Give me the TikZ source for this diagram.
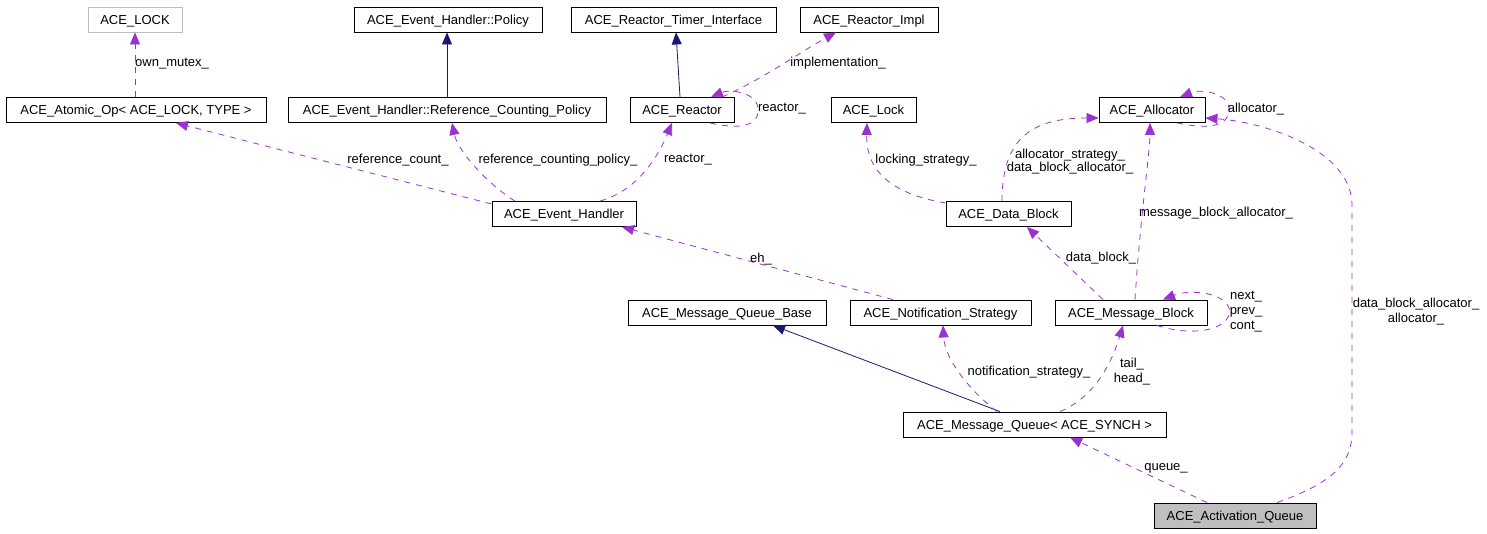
\documentclass[tikz,border=0pt]{standalone}
\usepackage{fontspec}
\setmainfont{Liberation Sans}
\usetikzlibrary{arrows.meta}
\definecolor{purp}{HTML}{9A32CD}
\definecolor{navy}{HTML}{191970}
\definecolor{gfill}{HTML}{BFBFBF}
\tikzset{
  cls/.style={draw=black, line width=0.9pt, minimum height=25pt, inner sep=0pt, text height=10pt, text depth=0.7pt, font=\fontsize{13}{15}\selectfont},
  lbl/.style={inner sep=0pt, font=\fontsize{13}{15}\selectfont, align=center},
  use/.style={draw=purp, line width=0.8pt, dash pattern=on 6pt off 6pt, -{Triangle[length=12pt,width=10pt,fill=purp]}},
  inh/.style={draw=navy, line width=0.8pt, -{Triangle[length=12pt,width=10pt,fill=navy]}}
}
\begin{document}
\begin{tikzpicture}[x=1pt,y=-1pt]
\useasboundingbox (0,0) rectangle (1487,533);
% classes
\node[cls, draw=gfill, minimum width=94pt] (lock) at (135,19.5) {ACE\_LOCK};
\node[cls, minimum width=188pt] (policy) at (448,19.5) {ACE\_Event\_Handler::Policy};
\node[cls, minimum width=205pt] (rti) at (673.5,19.5) {ACE\_Reactor\_Timer\_Interface};
\node[cls, minimum width=138pt] (rimpl) at (869,19.5) {ACE\_Reactor\_Impl};
\node[cls, minimum width=260pt] (atomic) at (136,110) {ACE\_Atomic\_Op< ACE\_LOCK, TYPE >};
\node[cls, minimum width=318pt] (rcp) at (447,110) {ACE\_Event\_Handler::Reference\_Counting\_Policy};
\node[cls, minimum width=104pt] (reactor) at (682,110) {ACE\_Reactor};
\node[cls, minimum width=85pt] (alock) at (873.5,110) {ACE\_Lock};
\node[cls, minimum width=106pt] (alloc) at (1152,110) {ACE\_Allocator};
\node[cls, minimum width=144pt] (eh) at (564,214) {ACE\_Event\_Handler};
\node[cls, minimum width=125pt] (db) at (1008.5,214) {ACE\_Data\_Block};
\node[cls, minimum width=198pt] (mqb) at (727,312.5) {ACE\_Message\_Queue\_Base};
\node[cls, minimum width=181pt] (ns) at (940.5,312.5) {ACE\_Notification\_Strategy};
\node[cls, minimum width=152pt] (mb) at (1131,312.5) {ACE\_Message\_Block};
\node[cls, minimum width=263pt] (mq) at (1034.5,424.5) {ACE\_Message\_Queue< ACE\_SYNCH >};
\node[cls, fill=gfill, minimum width=162pt] (aq) at (1235,515.5) {ACE\_Activation\_Queue};
% inheritance
\draw[inh] (rcp.north -| 447,0) -- (policy.south -| 447,0);
\draw[inh] (reactor.north -| 680,0) -- (rti.south -| 676,0);
\draw[inh] (mq.north -| 1000,0) -- (mqb.south -| 773,0);
% usage
\draw[use] (atomic.north -| 135,0) -- (lock.south -| 135,0);
\draw[use] (reactor.north -| 722,0) .. controls (765,78) and (800,52) .. (rimpl.south -| 836,0);
\draw[use] (reactor.south -| 710,0) .. controls (740,130) and (760,126) .. (758,108) .. controls (756,92) and (730,89) .. (reactor.north -| 711,0);
\draw[use] (eh.west |- 0,204) -- (atomic.south -| 176,0);
\draw[use] (eh.north -| 515,0) .. controls (490,186) and (458,152) .. (rcp.south -| 452,0);
\draw[use] (eh.north -| 600,0) .. controls (640,190) and (660,152) .. (reactor.south -| 672,0);
\draw[use] (db.west |- 0,203) .. controls (880,192) and (866,162) .. (alock.south -| 867,0);
\draw[use] (db.north -| 1002,0) .. controls (1002,140) and (1030,118) .. (alloc.west |- 0,118);
\draw[use] (alloc.south -| 1177,0) .. controls (1210,130) and (1230,126) .. (1229,108) .. controls (1227,92) and (1200,89) .. (alloc.north -| 1180,0);
\draw[use] (mb.north -| 1135,0) .. controls (1140,220) and (1150,150) .. (alloc.south -| 1150,0);
\draw[use] (mb.north -| 1103,0) -- (db.south -| 1027,0);
\draw[use] (mb.south -| 1157,0) .. controls (1190,336) and (1226,332) .. (1230,312) .. controls (1228,292) and (1190,289) .. (mb.north -| 1163,0);
\draw[use] (ns.north -| 893,0) -- (eh.south -| 622,0);
\draw[use] (mq.north -| 997,0) .. controls (975,395) and (945,362) .. (ns.south -| 943,0);
\draw[use] (mq.north -| 1060,0) .. controls (1095,397) and (1112,362) .. (mb.south -| 1123,0);
\draw[use] (aq.north -| 1207,0) -- (mq.south -| 1070,0);
\draw[use] (aq.north -| 1277,0) .. controls (1335,482) and (1352,462) .. (1352,432) -- (1352,205) .. controls (1352,150) and (1265,122) .. (alloc.east |- 0,118);
% labels
\node[lbl, anchor=west] (l1) at (135,64) {own\_mutex\_};
\node[lbl] (l2) at (838,63) {implementation\_};
\node[lbl] (l3) at (782,109) {reactor\_};
\node[lbl] (l4) at (398,160) {reference\_count\_};
\node[lbl] (l5) at (558,160) {reference\_counting\_policy\_};
\node[lbl] (l6) at (688,160) {reactor\_};
\node[lbl] (l7) at (926,160) {locking\_strategy\_};
\node[lbl] (l8) at (1070,161.5) {allocator\_strategy\_\\[-2pt]data\_block\_allocator\_};
\node[lbl] (l9) at (1256,109) {allocator\_};
\node[lbl] (l10) at (1216,213) {message\_block\_allocator\_};
\node[lbl] (l11) at (1101,258) {data\_block\_};
\node[lbl] (l12) at (1246,312) {next\_\\prev\_\\cont\_};
\node[lbl] (l13) at (761,259) {eh\_};
\node[lbl] (l14) at (1029,372) {notification\_strategy\_};
\node[lbl] (l15) at (1132,371.5) {tail\_\\head\_};
\node[lbl] (l16) at (1166,468) {queue\_};
\node[lbl] (l17) at (1416,312) {data\_block\_allocator\_\\allocator\_};
\end{tikzpicture}
\end{document}
